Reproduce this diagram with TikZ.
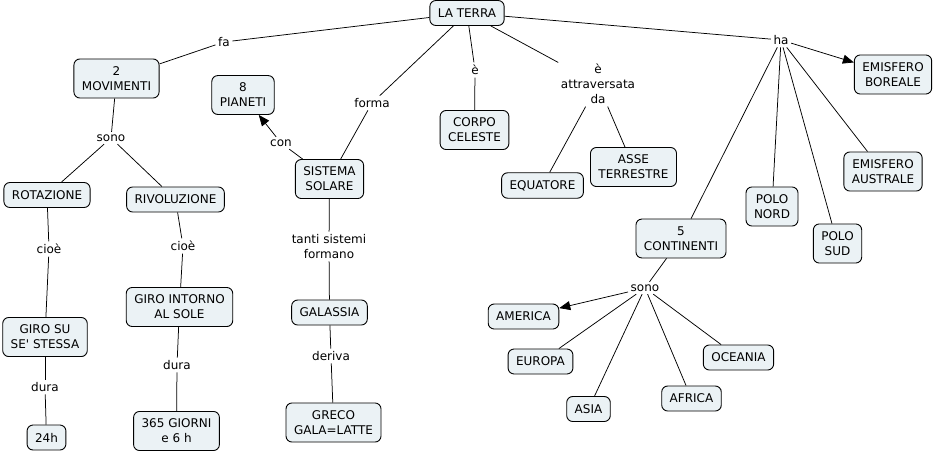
\documentclass[tikz,border=0pt]{standalone}
\usepackage{fontspec}
\setmainfont{DejaVu Sans}
\usetikzlibrary{arrows.meta}
\definecolor{cmapfill}{HTML}{EBF2F5}

\tikzset{
  concept/.style={draw=black, fill=cmapfill, rounded corners=6pt, line width=0.9pt,
    align=center, inner xsep=8pt, inner ysep=7.5pt, minimum height=25pt,
    font=\fontsize{12}{15}\selectfont},
  linkword/.style={align=center, inner sep=2.5pt, font=\fontsize{12}{15}\selectfont},
  link/.style={draw=black, line width=0.75pt},
  linkto/.style={link, -{Triangle[length=11pt,width=9pt]}}
}
\newcommand{\join}[2]{\draw[link] (#1) -- (#2);}
\newcommand{\joinarrow}[2]{\draw[linkto] (#1) -- (#2);}

\begin{document}
\begin{tikzpicture}[x=1pt, y=-1pt]
  \useasboundingbox[fill=white] (0,0) rectangle (934,453);

  % Define nodes
  \node[concept] (terra)     at (467,13)    {LA TERRA};
  \node[concept] (mov)       at (116.5,78.5) {2\\MOVIMENTI};
  \node[concept] (pianeti)   at (243,95)    {8\\PIANETI};
  \node[concept] (rotaz)     at (47,195)    {ROTAZIONE};
  \node[concept] (rivol)     at (175.5,199.5) {RIVOLUZIONE};
  \node[concept] (sistema)   at (329.5,179) {SISTEMA\\SOLARE};
  \node[concept] (corpo)     at (474.5,130) {CORPO\\CELESTE};
  \node[concept] (equatore)  at (542.5,185.5) {EQUATORE};
  \node[concept] (asse)      at (633.5,167) {ASSE\\TERRESTRE};
  \node[concept] (boreale)   at (893,74.5)  {EMISFERO\\BOREALE};
  \node[concept] (australe)  at (883,171.5) {EMISFERO\\AUSTRALE};
  \node[concept] (nord)      at (772,206.5) {POLO\\NORD};
  \node[concept] (sud)       at (837.5,243.5) {POLO\\SUD};
  \node[concept] (cont)      at (681,238.5) {5\\CONTINENTI};
  \node[concept] (america)   at (523.5,316.5) {AMERICA};
  \node[concept] (europa)    at (540.5,361.5) {EUROPA};
  \node[concept] (asia)      at (588.5,409) {ASIA};
  \node[concept] (africa)    at (691.5,398.5) {AFRICA};
  \node[concept] (oceania)   at (738.5,357.5) {OCEANIA};
  \node[concept] (girosu)    at (45,337)    {GIRO SU\\SE\textquotesingle{} STESSA};
  \node[concept] (ore)       at (46.5,437.5) {24h};
  \node[concept] (girosole)  at (179.5,307) {GIRO INTORNO\\AL SOLE};
  \node[concept] (giorni)    at (176.5,431) {365 GIORNI\\e 6 h};
  \node[concept] (galassia)  at (329.5,312.5) {GALASSIA};
  \node[concept] (greco)     at (333.5,422.5) {GRECO\\GALA=LATTE};

  % Define linking words
  \node[linkword] (fa)       at (224,42)  {fa};
  \node[linkword] (sono_m)   at (111,138) {sono};
  \node[linkword] (con)      at (281,143) {con};
  \node[linkword] (forma)    at (372,103) {forma};
  \node[linkword] (e_corpo)  at (475,70)  {è};
  \node[linkword] (attrav)   at (598,84)  {è\\attraversata\\da};
  \node[linkword] (ha)       at (781,40)  {ha};
  \node[linkword] (cioe_rot) at (49,249)  {cioè};
  \node[linkword] (cioe_riv) at (183,246) {cioè};
  \node[linkword] (tanti)    at (329,246.5) {tanti sistemi\\formano};
  \node[linkword] (dura_su)  at (45,387)  {dura};
  \node[linkword] (dura_sole) at (177,365) {dura};
  \node[linkword] (deriva)   at (331,356) {deriva};
  \node[linkword] (sono_c)   at (645,288) {sono};

  % Connect the nodes
  \join{terra}{fa} \join{fa}{mov}
  \join{terra}{forma} \join{forma}{sistema}
  \join{terra}{e_corpo} \join{e_corpo}{corpo}
  \join{terra}{attrav} \join{attrav}{equatore} \join{attrav}{asse}
  \join{terra}{ha}
  \joinarrow{ha}{boreale}
  \join{ha}{australe} \join{ha}{nord} \join{ha}{sud} \join{ha}{cont}
  \join{mov}{sono_m} \join{sono_m}{rotaz} \join{sono_m}{rivol}
  \join{rotaz}{cioe_rot} \join{cioe_rot}{girosu}
  \join{girosu}{dura_su} \join{dura_su}{ore}
  \join{rivol}{cioe_riv} \join{cioe_riv}{girosole}
  \join{girosole}{dura_sole} \join{dura_sole}{giorni}
  \join{sistema}{con} \joinarrow{con}{pianeti}
  \join{sistema}{tanti} \join{tanti}{galassia}
  \join{galassia}{deriva} \join{deriva}{greco}
  \join{cont}{sono_c}
  \joinarrow{sono_c}{america}
  \join{sono_c}{europa} \join{sono_c}{asia} \join{sono_c}{africa} \join{sono_c}{oceania}

\end{tikzpicture}
\end{document}
